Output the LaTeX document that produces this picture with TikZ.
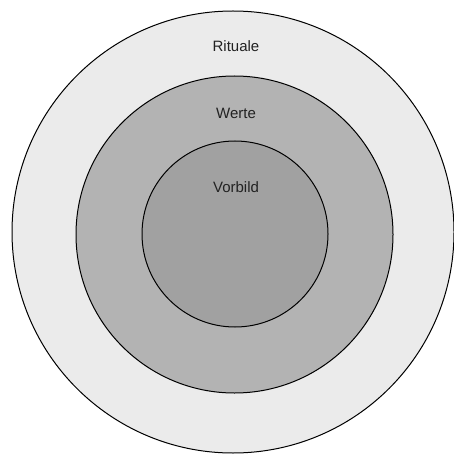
\documentclass[tikz,border=0pt]{standalone}
\usepackage{fontspec}
\setmainfont{Liberation Sans}
\usepackage{tikz}
\usetikzlibrary{positioning}
\definecolor{ringlight}{HTML}{EBEBEB}
\definecolor{ringmid}{HTML}{B3B3B3}
\definecolor{ringdark}{HTML}{A1A1A1}
\definecolor{ringtext}{HTML}{222222}

\tikzset{
  ring/.style={circle,draw=black,line width=1pt,inner sep=0pt},
  ringlabel/.style={font=\fontsize{15}{17}\selectfont,text=ringtext}
}

\begin{document}
\begin{tikzpicture}[x=1pt,y=-1pt]
        \useasboundingbox (0,0) rectangle (454,454);
        \node[ring,fill=ringlight,minimum size=442pt] (rituale) at (233,232) {};
        \node[ring,fill=ringmid,minimum size=317pt] (werte) at (234.5,234.5) {};
        \node[ring,fill=ringdark,minimum size=186pt] (vorbild) at (235,234) {};
        \node[ringlabel] (lrituale) at (236,46) {Rituale};
        \node[ringlabel] (lwerte) at (236,113) {Werte};
        \node[ringlabel] (lvorbild) at (236,187) {Vorbild};
      \end{tikzpicture}
\end{document}
